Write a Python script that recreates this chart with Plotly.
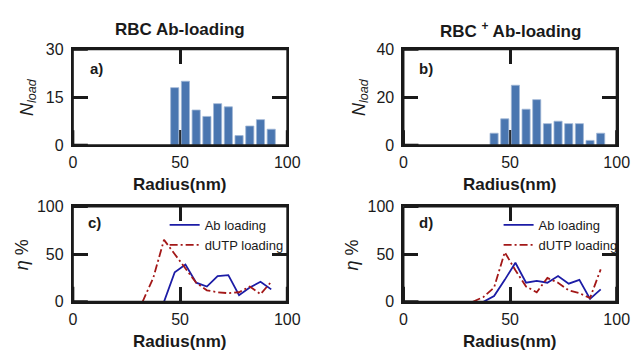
import plotly.graph_objects as go

# ---------------- data ----------------
a_centers = [47.5, 52.5, 57.5, 62.5, 67.5, 72.5, 77.5, 82.5, 87.5, 92.5]
a_counts = [18, 20, 11, 9, 13, 12, 3, 6, 8, 5]

b_centers = [42.5, 47.5, 52.5, 57.5, 62.5, 67.5, 72.5, 77.5, 82.5, 87.5, 92.5]
b_counts = [5, 11, 25, 15, 19, 9, 10, 9, 9, 2, 5]

c_ab_x = [42.5, 47.5, 52.5, 57.5, 62.5, 67.5, 72.5, 77.5, 82.5, 87.5, 92.5]
c_ab_y = [0, 31, 39, 20, 16, 27, 28, 7, 15, 21, 13]
c_dutp_x = [32.5, 37.5, 42.5, 47.5, 52.5, 57.5, 62.5, 67.5, 72.5, 77.5, 82.5, 87.5, 92.5]
c_dutp_y = [0, 25, 65, 50, 35, 20, 12, 10, 9, 10, 16, 8, 21]

d_ab_x = [37.5, 42.5, 47.5, 52.5, 57.5, 62.5, 67.5, 72.5, 77.5, 82.5, 87.5, 92.5]
d_ab_y = [0, 6, 23, 41, 20, 22, 20, 27, 19, 23, 3, 13]
d_dutp_x = [32.5, 37.5, 42.5, 47.5, 52.5, 57.5, 62.5, 67.5, 72.5, 77.5, 82.5, 87.5, 92.5]
d_dutp_y = [0, 5, 15, 52, 33, 16, 10, 25, 20, 12, 9, 4, 34]

x_ticks = [0, 50, 100]
a_yticks = [0, 15, 30]
b_yticks = [0, 20, 40]
cd_yticks = [0, 50, 100]

titles = ["RBC Ab-loading", "RBC <sup>+</sup> Ab-loading"]
panel_labels = ["a)", "b)", "c)", "d)"]
series_names = ["Ab loading", "dUTP loading"]

# ---------------- style ----------------
W, H = 644, 361
FONT = "Liberation Sans, Arial, sans-serif"
BAR = "#4a76b0"
BLUE = "#1c1ca6"
RED = "#a31818"
INK = "#1a1a1a"
TICKLEN = 15
TICKW = 3
FRAMEW = 2

def px_x(p):
    return p / W

def px_y(p):
    return 1 - p / H

dom_left = [px_x(70.7), px_x(291)]
dom_right = [px_x(410.3), px_x(629.3)]
dom_top = [px_y(144), px_y(43.3)]
dom_bot = [px_y(308.3), px_y(208.3)]

fig = go.Figure()

fig.add_trace(go.Bar(x=a_centers, y=a_counts, marker=dict(color=BAR, line=dict(color="#9fb6d6", width=0.8)),
                     xaxis="x", yaxis="y", showlegend=False))
fig.add_trace(go.Bar(x=b_centers, y=b_counts, marker=dict(color=BAR, line=dict(color="#9fb6d6", width=0.8)),
                     xaxis="x2", yaxis="y2", showlegend=False))

dashdot = "8px,3px,2px,3px"
fig.add_trace(go.Scatter(x=c_ab_x, y=c_ab_y, mode="lines", name=series_names[0],
                         line=dict(color=BLUE, width=1.8), xaxis="x3", yaxis="y3", legend="legend"))
fig.add_trace(go.Scatter(x=c_dutp_x, y=c_dutp_y, mode="lines", name=series_names[1],
                         line=dict(color=RED, width=1.8, dash=dashdot), xaxis="x3", yaxis="y3", legend="legend"))
fig.add_trace(go.Scatter(x=d_ab_x, y=d_ab_y, mode="lines", name=series_names[0],
                         line=dict(color=BLUE, width=1.8), xaxis="x4", yaxis="y4", legend="legend2"))
fig.add_trace(go.Scatter(x=d_dutp_x, y=d_dutp_y, mode="lines", name=series_names[1],
                         line=dict(color=RED, width=1.8, dash=dashdot), xaxis="x4", yaxis="y4", legend="legend2"))

def xax(domain, anchor, layer):
    return dict(domain=domain, anchor=anchor, range=[0, 100], tickvals=x_ticks,
                ticks="inside", ticklen=TICKLEN, tickwidth=TICKW, tickcolor=INK,
                showline=True, linewidth=FRAMEW, linecolor=INK, mirror="all",
                showgrid=False, zeroline=False, layer=layer,
                tickfont=dict(family=FONT, size=16, color=INK), ticklabelstandoff=2)

def yax(domain, anchor, rng, tv):
    return dict(domain=domain, anchor=anchor, range=rng, tickvals=tv,
                ticks="inside", ticklen=TICKLEN, tickwidth=TICKW, tickcolor=INK,
                showline=True, linewidth=FRAMEW, linecolor=INK, mirror="all",
                showgrid=False, zeroline=False,
                tickfont=dict(family=FONT, size=16, color=INK), ticklabelstandoff=4)

legend_common = dict(font=dict(family=FONT, size=13, color=INK), bgcolor="rgba(0,0,0,0)",
                     xanchor="left", yanchor="top", itemwidth=30, tracegroupgap=0)

fig.update_layout(
    width=W, height=H, margin=dict(l=0, r=0, t=0, b=0),
    paper_bgcolor="white", plot_bgcolor="white",
    bargap=0.24,
    xaxis=xax(dom_left, "y", "below traces"),
    yaxis=yax(dom_top, "x", [0, 30], a_yticks),
    xaxis2=xax(dom_right, "y2", "below traces"),
    yaxis2=yax(dom_top, "x2", [0, 40], b_yticks),
    xaxis3=xax(dom_left, "y3", "above traces"),
    yaxis3=yax(dom_bot, "x3", [0, 100], cd_yticks),
    xaxis4=xax(dom_right, "y4", "above traces"),
    yaxis4=yax(dom_bot, "x4", [0, 100], cd_yticks),
    legend=dict(x=px_x(165), y=px_y(212), **legend_common),
    legend2=dict(x=px_x(508), y=px_y(212), **legend_common),
)

# frame edges as separate paper lines, plus edge ticks (axis-domain units)
shapes = []
for (xa, ya), xdom, ydom in ((("x", "y"), dom_left, dom_top), (("x2", "y2"), dom_right, dom_top),
                             (("x3", "y3"), dom_left, dom_bot), (("x4", "y4"), dom_right, dom_bot)):
    edges = [(xdom[0], ydom[0], xdom[1], ydom[0]), (xdom[0], ydom[1], xdom[1], ydom[1]),
             (xdom[0], ydom[0], xdom[0], ydom[1]), (xdom[1], ydom[0], xdom[1], ydom[1])]
    for x0, y0, x1, y1 in edges:
        shapes.append(dict(type="line", xref="paper", yref="paper", x0=x0, y0=y0, x1=x1, y1=y1,
                           line=dict(color=INK, width=FRAMEW), layer="above"))
    xd, yd = xa + " domain", ya + " domain"
    for yy in (0, 1):
        shapes.append(dict(type="line", xref=xd, yref=yd, xsizemode="pixel", xanchor=0,
                           x0=0, x1=TICKLEN, y0=yy, y1=yy, line=dict(color=INK, width=TICKW)))
    for xx in (0, 1):
        shapes.append(dict(type="line", xref=xd, yref=yd, ysizemode="pixel", yanchor=0,
                           y0=0, y1=TICKLEN, x0=xx, x1=xx, line=dict(color=INK, width=TICKW)))

ann = []
def text(x, y, s, size, bold=False, angle=0, xanchor="center"):
    if bold:
        s = "<b>" + s + "</b>"
    ann.append(dict(x=px_x(x), y=px_y(y), xref="paper", yref="paper", text=s, showarrow=False,
                    font=dict(family=FONT, size=size, color=INK), textangle=angle,
                    xanchor=xanchor, yanchor="middle"))

# panel titles
text(181, 23, titles[0], 17, bold=True)
text(520, 23, titles[1], 17, bold=True)
# x axis titles
for cx in (181, 520):
    text(cx, 185, "Radius(nm)", 17, bold=True)
    text(cx, 350, "Radius(nm)", 17, bold=True)
# y axis titles
text(25, 93, "<i>N</i><sub><i>load</i></sub>", 18, angle=-90)
text(366, 93, "<i>N</i><sub><i>load</i></sub>", 18, angle=-90)
text(18, 259, "<i>η</i> %", 18, angle=-90)
text(357, 259, "<i>η</i> %", 18, angle=-90)
# panel labels
text(86, 63, panel_labels[0], 15, bold=True, xanchor="left")
text(424, 63, panel_labels[1], 15, bold=True, xanchor="left")
text(84, 225, panel_labels[2], 15, bold=True, xanchor="left")
text(424, 225, panel_labels[3], 15, bold=True, xanchor="left")

fig.update_layout(annotations=ann, shapes=shapes)
fig.write_html("out.html")
